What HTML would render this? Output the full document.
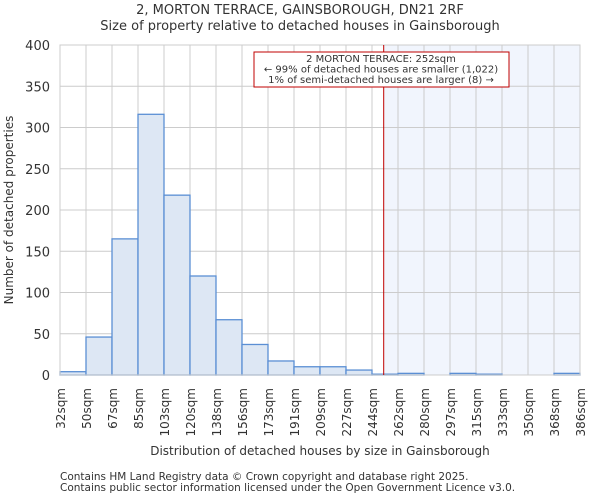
<!DOCTYPE html>
<html><head><meta charset="utf-8"><style>
body{margin:0;background:#fff;font-family:"DejaVu Sans","Liberation Sans",sans-serif;}
svg text{font-family:"DejaVu Sans","Liberation Sans",sans-serif;fill:#333;}
</style></head><body>
<svg id="chart" width="600" height="500" xmlns="http://www.w3.org/2000/svg">
<text x="300" y="14" text-anchor="middle" font-size="13">2, MORTON TERRACE, GAINSBOROUGH, DN21 2RF</text>
<text x="300" y="30" text-anchor="middle" font-size="13">Size of property relative to detached houses in Gainsborough</text>
<g id="plot"></g>
<text x="320" y="455" text-anchor="middle" font-size="12">Distribution of detached houses by size in Gainsborough</text>
<text transform="translate(13,210) rotate(-90)" text-anchor="middle" font-size="12">Number of detached properties</text>
<text x="60" y="480" font-size="10.5">Contains HM Land Registry data © Crown copyright and database right 2025.</text>
<text x="60" y="491" font-size="10.5">Contains public sector information licensed under the Open Government Licence v3.0.</text>
</svg>
<script>
const binLabels=["32sqm","50sqm","67sqm","85sqm","103sqm","120sqm","138sqm","156sqm","173sqm","191sqm","209sqm","227sqm","244sqm","262sqm","280sqm","297sqm","315sqm","333sqm","350sqm","368sqm","386sqm"];
const counts=[4,46,165,316,218,120,67,37,17,10,10,6,1,2,0,2,1,0,0,2];
const yTicks=[0,50,100,150,200,250,300,350,400];
const markerIndex=12.45;
const NS="http://www.w3.org/2000/svg";
const L=60,R=580,T=45,B=375,yMax=400;
const bw=(R-L)/counts.length;
const x=i=>L+i*bw;
const y=v=>B-(v/yMax)*(B-T);
const g=document.getElementById('plot');
function mk(t,a){const e=document.createElementNS(NS,t);for(const k in a)e.setAttribute(k,a[k]);g.appendChild(e);return e;}
let e;
e=mk('rect',{x:x(markerIndex),y:T,width:R-x(markerIndex),height:B-T,fill:'#f1f5fd'});


yTicks.forEach(v=>{
 e=mk('line',{x1:L,x2:R,y1:y(v),y2:y(v),stroke:'#ccc','stroke-width':1});
 
 
 e=mk('text',{x:L-10,y:y(v)+5,'text-anchor':'end','font-size':13});
 e.textContent=v;
 
 
});
binLabels.forEach((s,i)=>{
 e=mk('line',{x1:x(i),x2:x(i),y1:T,y2:B,stroke:'#ccc','stroke-width':1});
 
 
 e=mk('text',{transform:`translate(${x(i)+5},388) rotate(-90)`,'text-anchor':'end','font-size':12});
 e.textContent=s;
 
 
});
counts.forEach((c,i)=>{
 e=mk('rect',{x:x(i),y:y(c),width:bw,height:B-y(c),fill:'#dde7f4',stroke:'#5b8fd4','stroke-width':1.3});
 
 
});
e=mk('rect',{x:L,y:T,width:R-L,height:B-T,fill:'none',stroke:'#ccc'});


e=mk('line',{x1:x(markerIndex),x2:x(markerIndex),y1:T,y2:B,stroke:'#c00000','stroke-width':1});


e=mk('rect',{x:254,y:52,width:255,height:35,fill:'#fff',stroke:'#c00000','stroke-width':1});


["2 MORTON TERRACE: 252sqm","← 99% of detached houses are smaller (1,022)","1% of semi-detached houses are larger (8) →"].forEach((s,i)=>{
 e=mk('text',{x:381,y:62+i*10.5,'text-anchor':'middle','font-size':10});
 e.textContent=s;
 
 
});
</script>
</body></html>
